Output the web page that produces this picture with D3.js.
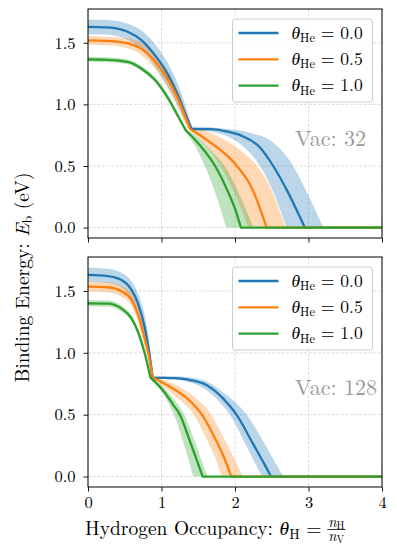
<!DOCTYPE html>
<html><head><meta charset="utf-8">
<script src="https://cdn.jsdelivr.net/npm/d3@7"></script>
<style>
body{margin:0;background:#fff}
svg{display:block}
</style>
</head><body>
<svg id="c" width="397" height="556"></svg>
<script>
// ---------------- DATA ----------------
const xTicks = [0, 1, 2, 3, 4];
const xTickLabels = ["0", "1", "2", "3", "4"];
const yTicks = [0, 0.5, 1.0, 1.5];
const yTickLabels = ["0.0", "0.5", "1.0", "1.5"];
const xDomain = [0, 4];
const yDomain = [-0.0845, 1.7745];
const seriesNames = ["0.0", "0.5", "1.0"];
const seriesColors = ["#1f77b4", "#ff7f0e", "#2ca02c"];
const panelLabels = ["Vac: 32", "Vac: 128"];

// Each curve = list of segments (piecewise smooth, sharp corners between segments)
// ---- Vac 32 ----
const v32_he00_mid = [
  [[0,1.63],[0.27,1.625],[0.54,1.59],[0.73,1.52],[0.91,1.40],[1.09,1.24],[1.22,1.08],[1.32,0.93],[1.41,0.80]],
  [[1.41,0.80],[1.66,0.80],[1.89,0.78],[2.11,0.74],[2.34,0.65],[2.52,0.50],[2.70,0.31],[2.88,0.09],[2.95,0]],
  [[2.95,0],[4,0]]];
const v32_he00_hi = [
  [[0,1.69],[0.27,1.685],[0.54,1.655],[0.73,1.60],[0.91,1.49],[1.09,1.33],[1.22,1.17],[1.32,1.00],[1.41,0.82]],
  [[1.41,0.82],[1.9,0.80],[2.2,0.77],[2.52,0.69],[2.79,0.50],[3.0,0.26],[3.2,0]],
  [[3.2,0],[4,0]]];
const v32_he00_lo = [
  [[0,1.57],[0.27,1.565],[0.54,1.525],[0.73,1.45],[0.91,1.31],[1.09,1.14],[1.22,0.99],[1.32,0.87],[1.41,0.79]],
  [[1.41,0.79],[1.66,0.78],[1.9,0.74],[2.11,0.66],[2.34,0.50],[2.52,0.29],[2.70,0]],
  [[2.70,0],[4,0]]];

const v32_he05_mid = [
  [[0,1.52],[0.27,1.515],[0.54,1.495],[0.73,1.45],[0.91,1.35],[1.09,1.20],[1.22,1.05],[1.31,0.92],[1.39,0.80]],
  [[1.39,0.80],[1.55,0.74],[1.77,0.645],[1.92,0.57],[2.04,0.49],[2.23,0.32],[2.43,0]],
  [[2.43,0],[4,0]]];
const v32_he05_hi = [
  [[0,1.555],[0.27,1.55],[0.54,1.535],[0.73,1.50],[0.91,1.41],[1.09,1.27],[1.22,1.12],[1.31,0.98],[1.40,0.81]],
  [[1.40,0.81],[1.66,0.77],[1.89,0.70],[2.11,0.61],[2.30,0.50],[2.50,0.30],[2.69,0]],
  [[2.69,0],[4,0]]];
const v32_he05_lo = [
  [[0,1.485],[0.27,1.48],[0.54,1.455],[0.73,1.40],[0.91,1.29],[1.09,1.13],[1.22,0.98],[1.31,0.86],[1.38,0.79]],
  [[1.38,0.79],[1.55,0.70],[1.80,0.50],[2.0,0.27],[2.18,0]],
  [[2.18,0],[4,0]]];

const v32_he10_mid = [
  [[0,1.366],[0.27,1.362],[0.54,1.345],[0.73,1.29],[0.91,1.20],[1.09,1.05],[1.22,0.91],[1.33,0.79]],
  [[1.33,0.79],[1.52,0.67],[1.73,0.50],[1.89,0.31],[2.02,0.12],[2.08,0]],
  [[2.08,0],[4,0]]];
const v32_he10_hi = [
  [[0,1.386],[0.27,1.382],[0.54,1.365],[0.73,1.31],[0.91,1.22],[1.09,1.075],[1.22,0.935],[1.33,0.80]],
  [[1.33,0.80],[1.52,0.72],[1.70,0.61],[1.86,0.50],[2.05,0.28],[2.25,0]],
  [[2.25,0],[4,0]]];
const v32_he10_lo = [
  [[0,1.346],[0.27,1.342],[0.54,1.325],[0.73,1.27],[0.91,1.18],[1.09,1.025],[1.22,0.885],[1.32,0.78]],
  [[1.32,0.78],[1.45,0.67],[1.59,0.50],[1.75,0.25],[1.88,0]],
  [[1.88,0],[4,0]]];

// ---- Vac 128 ----
const v128_he00_mid = [
  [[0,1.63],[0.27,1.62],[0.45,1.59],[0.59,1.51],[0.68,1.40],[0.77,1.21],[0.82,1.05],[0.86,0.89],[0.88,0.80]],
  [[0.88,0.80],[1.16,0.795],[1.39,0.78],[1.61,0.74],[1.84,0.63],[2.02,0.50],[2.25,0.26],[2.40,0.10],[2.49,0]],
  [[2.49,0],[4,0]]];
const v128_he00_hi = [
  [[0,1.69],[0.27,1.68],[0.45,1.65],[0.59,1.58],[0.68,1.48],[0.77,1.31],[0.82,1.14],[0.86,0.96],[0.88,0.81]],
  [[0.88,0.81],[1.16,0.81],[1.39,0.80],[1.61,0.77],[1.84,0.68],[2.16,0.50],[2.40,0.27],[2.54,0.12],[2.66,0]],
  [[2.66,0],[4,0]]];
const v128_he00_lo = [
  [[0,1.575],[0.27,1.565],[0.45,1.53],[0.59,1.44],[0.68,1.32],[0.77,1.12],[0.82,0.97],[0.86,0.84],[0.88,0.79]],
  [[0.88,0.79],[1.16,0.785],[1.39,0.76],[1.61,0.70],[1.84,0.57],[1.93,0.50],[2.16,0.24],[2.28,0.10],[2.37,0]],
  [[2.37,0],[4,0]]];

const v128_he05_mid = [
  [[0,1.535],[0.27,1.53],[0.45,1.50],[0.59,1.43],[0.68,1.31],[0.77,1.12],[0.82,1.00],[0.86,0.87],[0.88,0.80]],
  [[0.88,0.80],[1.0,0.765],[1.16,0.71],[1.39,0.61],[1.55,0.50],[1.71,0.33],[1.84,0.17],[1.95,0]],
  [[1.95,0],[4,0]]];
const v128_he05_hi = [
  [[0,1.575],[0.27,1.57],[0.45,1.545],[0.59,1.48],[0.68,1.37],[0.77,1.19],[0.82,1.06],[0.86,0.92],[0.88,0.81]],
  [[0.88,0.81],[1.16,0.75],[1.39,0.67],[1.68,0.50],[1.85,0.31],[2.0,0.13],[2.11,0]],
  [[2.11,0],[4,0]]];
const v128_he05_lo = [
  [[0,1.495],[0.27,1.49],[0.45,1.455],[0.59,1.38],[0.68,1.25],[0.77,1.05],[0.82,0.94],[0.86,0.83],[0.88,0.79]],
  [[0.88,0.79],[1.16,0.66],[1.44,0.50],[1.60,0.32],[1.73,0.15],[1.82,0]],
  [[1.82,0],[4,0]]];

const v128_he10_mid = [
  [[0,1.40],[0.27,1.398],[0.45,1.36],[0.59,1.28],[0.68,1.17],[0.77,1.00],[0.85,0.80]],
  [[0.85,0.80],[1.03,0.69],[1.16,0.58],[1.25,0.50],[1.39,0.28],[1.50,0.10],[1.56,0]],
  [[1.56,0],[4,0]]];
const v128_he10_hi = [
  [[0,1.425],[0.27,1.423],[0.45,1.385],[0.59,1.305],[0.68,1.195],[0.77,1.03],[0.855,0.81]],
  [[0.855,0.81],[1.03,0.72],[1.16,0.63],[1.31,0.50],[1.45,0.29],[1.57,0.09],[1.63,0]],
  [[1.63,0],[4,0]]];
const v128_he10_lo = [
  [[0,1.375],[0.27,1.373],[0.45,1.335],[0.59,1.255],[0.68,1.145],[0.77,0.97],[0.845,0.79]],
  [[0.845,0.79],[1.03,0.66],[1.17,0.50],[1.30,0.27],[1.39,0.09],[1.43,0]],
  [[1.43,0],[4,0]]];

const panelSeries = [
  [ {mid:v32_he00_mid, hi:v32_he00_hi, lo:v32_he00_lo},
    {mid:v32_he05_mid, hi:v32_he05_hi, lo:v32_he05_lo},
    {mid:v32_he10_mid, hi:v32_he10_hi, lo:v32_he10_lo} ],
  [ {mid:v128_he00_mid, hi:v128_he00_hi, lo:v128_he00_lo},
    {mid:v128_he05_mid, hi:v128_he05_hi, lo:v128_he05_lo},
    {mid:v128_he10_mid, hi:v128_he10_hi, lo:v128_he10_lo} ]
];

// ---------------- LAYOUT ----------------
const FONT = '"Latin Modern Roman", "CMU Serif", "Liberation Serif", serif';
const svg = d3.select("#c");
const L = 88, R = 382;
const boxes = [{top:9, bottom:238}, {top:257, bottom:487}];
const x = d3.scaleLinear().domain(xDomain).range([L, R]);

function segPath(line, segs){
  return segs.map((s,i)=>{ const p=line(s); return i===0?p:"L"+p.slice(1); }).join("");
}
function txt(sel, size){
  return sel.append("text").style("font-family", FONT).style("font-size", size + "px");
}

boxes.forEach((b, pi) => {
  const y = d3.scaleLinear().domain(yDomain).range([b.bottom, b.top]);
  const g = svg.append("g");
  const clipId = "clip"+pi;
  svg.append("clipPath").attr("id", clipId).append("rect")
    .attr("x", L).attr("y", b.top).attr("width", R-L).attr("height", b.bottom-b.top);

  // grid
  const grid = g.append("g").attr("stroke", "#d6d6d6").attr("stroke-width", 0.8)
    .attr("stroke-dasharray", "3,1.6");
  grid.selectAll("line.gx").data(xTicks).join("line")
    .attr("x1", d=>x(d)).attr("x2", d=>x(d)).attr("y1", b.top).attr("y2", b.bottom);
  grid.selectAll("line.gy").data(yTicks).join("line")
    .attr("y1", d=>y(d)).attr("y2", d=>y(d)).attr("x1", L).attr("x2", R);

  const line = d3.line().x(d=>x(d[0])).y(d=>y(d[1])).curve(d3.curveMonotoneX);
  const plot = g.append("g").attr("clip-path", `url(#${clipId})`);
  const ser = panelSeries[pi];
  ser.forEach((s, si) => {
    const hiP = segPath(line, s.hi);
    const loRev = s.lo.slice().reverse().map(seg => seg.slice().reverse());
    const loP = segPath(line, loRev);
    plot.append("path").attr("d", hiP + "L" + loP.slice(1) + "Z")
      .attr("fill", seriesColors[si]).attr("fill-opacity", 0.3).attr("stroke", "none");
  });
  ser.forEach((s, si) => {
    plot.append("path").attr("d", segPath(line, s.mid))
      .attr("fill", "none").attr("stroke", seriesColors[si]).attr("stroke-width", 2.3)
      .attr("stroke-linejoin", "round");
  });

  // axes
  const ax = g.append("g").attr("transform", `translate(0,${b.bottom})`)
    .call(d3.axisBottom(x).tickValues(xTicks).tickSize(4.5).tickPadding(5)
      .tickFormat((d,i)=> pi===1 ? xTickLabels[i] : ""));
  const ay = g.append("g").attr("transform", `translate(${L},0)`)
    .call(d3.axisLeft(y).tickValues(yTicks).tickSize(4.5).tickPadding(8)
      .tickFormat((d,i)=> yTickLabels[i]));
  [ax, ay].forEach(a => {
    a.select(".domain").remove();
    a.selectAll(".tick line").attr("stroke", "#000").attr("stroke-width", 0.9);
    a.selectAll(".tick text").style("font-family", FONT).style("font-size", "16.5px").attr("fill", "#000");
  });

  // frame
  g.append("rect").attr("x", L).attr("y", b.top).attr("width", R-L).attr("height", b.bottom-b.top)
    .attr("fill", "none").attr("stroke", "#000").attr("stroke-width", 1);

  // Vac label
  txt(g, 22).attr("x", 295).attr("y", b.bottom - 0.40*(b.bottom-b.top))
    .attr("fill", "#999999").text(panelLabels[pi]);

  // legend
  const lg = g.append("g").attr("transform", `translate(232.5,${b.top+10})`);
  lg.append("rect").attr("width", 140).attr("height", 83).attr("rx", 3)
    .attr("fill", "#fff").attr("fill-opacity", 0.8).attr("stroke", "#cccccc").attr("stroke-width", 1);
  seriesNames.forEach((nm, si) => {
    const yy = 14 + si*26.3;
    lg.append("line").attr("x1", 6).attr("x2", 46).attr("y1", yy).attr("y2", yy)
      .attr("stroke", seriesColors[si]).attr("stroke-width", 2.3);
    const t = txt(lg, 17.5).attr("x", 59).attr("y", yy + 5.5);
    t.append("tspan").attr("font-style", "italic").text("θ");
    t.append("tspan").style("font-size", "12.5px").attr("dy", 3.5).text("He");
    t.append("tspan").attr("dy", -3.5).text(" = " + nm);
  });
});

// x label
const xl = txt(svg, 19.5).attr("x", 85).attr("y", 535);
xl.append("tspan").text("Hydrogen Occupancy: ");
xl.append("tspan").attr("font-style", "italic").text("θ");
xl.append("tspan").style("font-size", "14px").attr("dy", 3.5).text("H");
xl.append("tspan").attr("dy", -3.5).text(" =");
const xlEnd = 85 + xl.node().getComputedTextLength();
const fx = xlEnd + 6;
// fraction n_H / n_V as one text element
const fr = txt(svg, 14.5);
const n1 = fr.append("tspan").attr("y", 526.5).attr("font-style", "italic").text("n");
const s1 = fr.append("tspan").style("font-size", "10.5px").attr("dy", 2.5).text("H");
const n2 = fr.append("tspan").attr("y", 540.5).attr("font-style", "italic").text("n");
const s2 = fr.append("tspan").style("font-size", "10.5px").attr("dy", 2.5).text("V");
const nw = n1.node().getComputedTextLength() + s1.node().getComputedTextLength();
const dw = n2.node().getComputedTextLength() + s2.node().getComputedTextLength();
const fw = Math.max(nw, dw) + 2;
n1.attr("x", fx + (fw - nw)/2);
n2.attr("x", fx + (fw - dw)/2);
svg.append("line").attr("x1", fx).attr("x2", fx + fw).attr("y1", 529.5).attr("y2", 529.5)
  .attr("stroke", "#000").attr("stroke-width", 0.8);

// y label
const yl = txt(svg, 19.5).attr("transform", "translate(28.5,277.5) rotate(-90)")
  .attr("text-anchor", "middle");
yl.append("tspan").text("Binding Energy: ");
yl.append("tspan").attr("font-style", "italic").text("E");
yl.append("tspan").style("font-size", "14px").attr("dy", 3.5).text("b");
yl.append("tspan").attr("dy", -3.5).text(" (eV)");
</script>
</body></html>
